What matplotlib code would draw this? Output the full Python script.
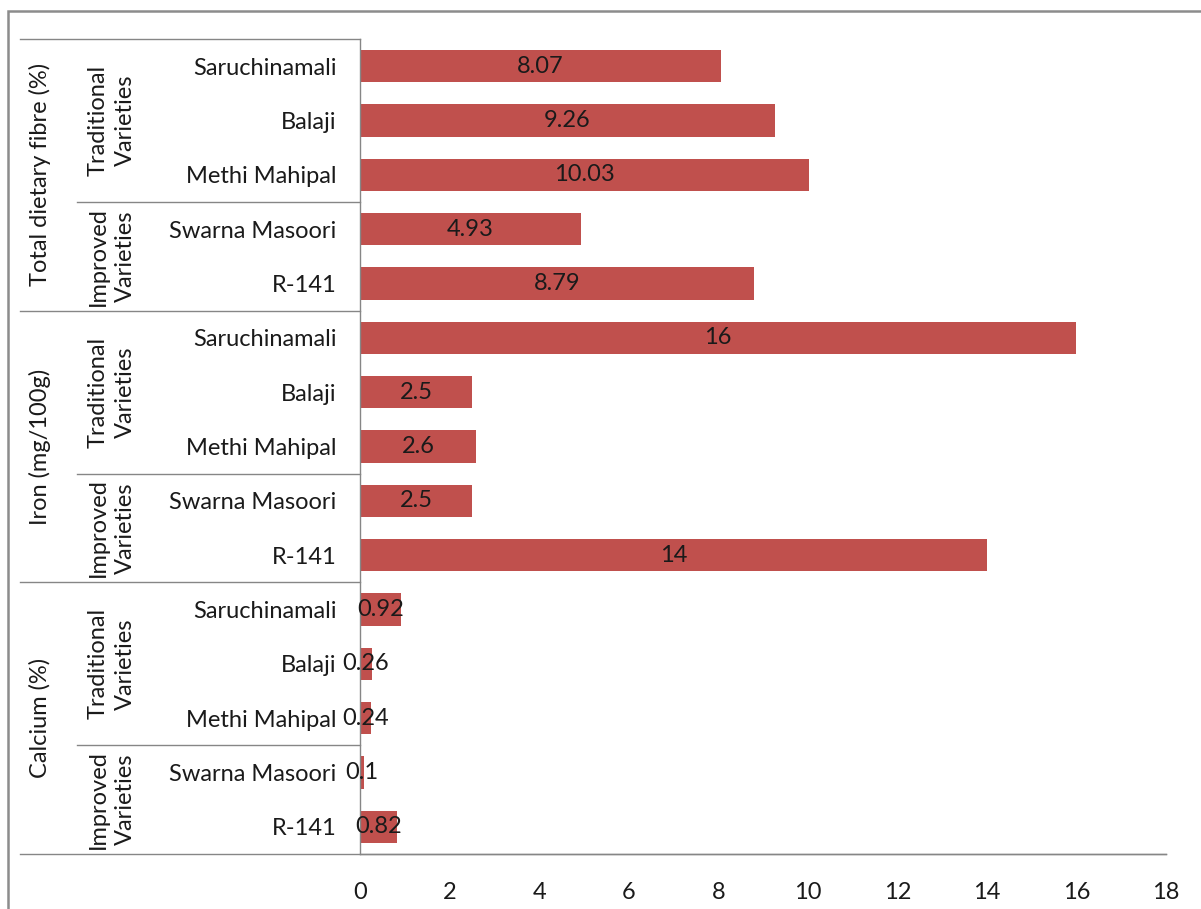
import matplotlib.pyplot as plt
from matplotlib.lines import Line2D
from matplotlib.patches import Rectangle

# data
groups = ["Total dietary fibre (%)", "Iron (mg/100g)", "Calcium (%)"]
subgroups = ["Traditional\nVarieties", "Improved\nVarieties"]
subgroup_sizes = [3, 2]
varieties = ["Saruchinamali", "Balaji", "Methi Mahipal", "Swarna Masoori", "R-141"]
fibre = [8.07, 9.26, 10.03, 4.93, 8.79]
iron = [16, 2.5, 2.6, 2.5, 14]
calcium = [0.92, 0.26, 0.24, 0.1, 0.82]
value_labels = [
    ["8.07", "9.26", "10.03", "4.93", "8.79"],
    ["16", "2.5", "2.6", "2.5", "14"],
    ["0.92", "0.26", "0.24", "0.1", "0.82"],
]
xticks = [0, 2, 4, 6, 8, 10, 12, 14, 16, 18]

plt.rcParams["font.family"] = ["Lato", "DejaVu Sans"]
FS = 17
BAR = "#C0504D"
GRID = "#868686"
TXT = "#1a1a1a"

W, H = 1201, 909
fig = plt.figure(figsize=(W / 100, H / 100), dpi=100)

# outer chart border (runs off the right and bottom of the picture)
fig.add_artist(Rectangle((8 / W, -0.1), 1.2, 1 - 11 / H + 0.1, transform=fig.transFigure,
                         fill=False, edgecolor="#8c8c8c", linewidth=1.8))

left, right, top, bottom = 360, 1166, 39, 854
ax = fig.add_axes([left / W, 1 - bottom / H, (right - left) / W, (bottom - top) / H])

values = fibre + iron + calcium
labels = value_labels[0] + value_labels[1] + value_labels[2]
ypos = list(range(len(values)))
ax.barh(ypos, values, height=0.59, color=BAR)
for y, v, s in zip(ypos, values, labels):
    ax.text(v / 2, y, s, ha="center", va="center", fontsize=FS, color=TXT)

ax.set_xlim(0, 18)
ax.set_ylim(len(values) - 0.5, -0.5)
ax.set_xticks(xticks)
ax.set_yticks(ypos)
ax.set_yticklabels(varieties * len(groups))
ax.tick_params(axis="y", length=0, pad=17, labelsize=FS, labelcolor=TXT)
ax.tick_params(axis="x", length=0, pad=20, labelsize=FS, labelcolor=TXT)
for s in ["top", "right"]:
    ax.spines[s].set_visible(False)
for s in ["left", "bottom"]:
    ax.spines[s].set_color(GRID)
    ax.spines[s].set_linewidth(1)

# multi-level category table on the left
x_outer = (20 - left) / (right - left)
x_inner = (77 - left) / (right - left)
x_sub = (112 - left) / (right - left)
x_grp = (40 - left) / (right - left)
tr = ax.get_yaxis_transform()
n = len(varieties)
ax.add_line(Line2D([x_outer, 0], [-0.5, -0.5], transform=tr, color=GRID, lw=1, clip_on=False))
for g, name in enumerate(groups):
    start = g * n
    ax.add_line(Line2D([x_outer, 0 if g < len(groups) - 1 else 1],
                       [start + n - 0.5] * 2, transform=tr, color=GRID, lw=1, clip_on=False))
    ax.text(x_grp, start + (n - 1) / 2, name, transform=tr, rotation=90,
            ha="center", va="center", fontsize=FS, color=TXT)
    pos = start
    for k, (sub, size) in enumerate(zip(subgroups, subgroup_sizes)):
        ax.text(x_sub, pos + (size - 1) / 2, sub, transform=tr, rotation=90,
                ha="center", va="center", fontsize=FS, color=TXT,
                multialignment="center", linespacing=1.4)
        pos += size
        if k < len(subgroups) - 1:
            ax.add_line(Line2D([x_inner, 0], [pos - 0.5] * 2, transform=tr,
                               color=GRID, lw=1, clip_on=False))

fig.savefig("out.png", dpi=100)
